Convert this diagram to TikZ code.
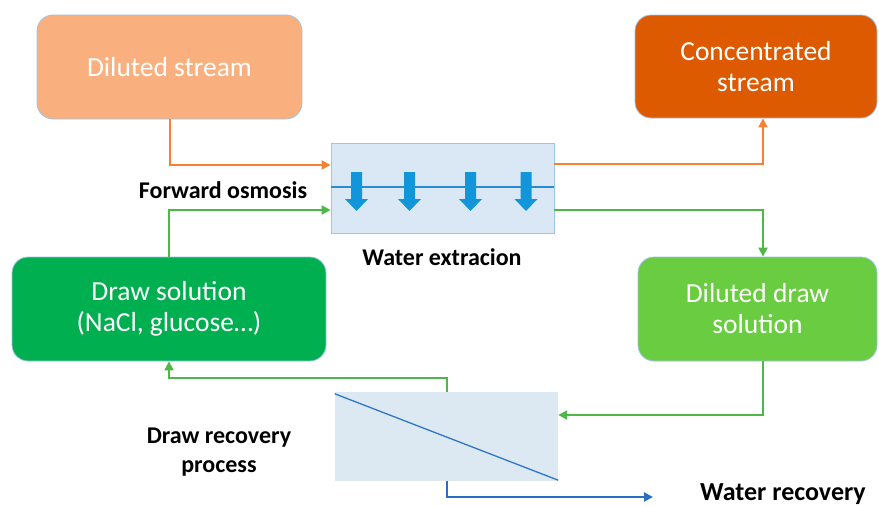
\documentclass[tikz,border=0pt]{standalone}
\usepackage{fontspec}
\setmainfont{Carlito}
\usetikzlibrary{arrows.meta}
\definecolor{boxedge}{RGB}{157,195,230}
\definecolor{dsfill}{RGB}{250,176,126}
\definecolor{csfill}{RGB}{222,90,0}
\definecolor{drfill}{RGB}{0,176,80}
\definecolor{ddfill}{RGB}{106,204,64}
\definecolor{fofill}{RGB}{218,232,245}
\definecolor{foedge}{RGB}{150,200,235}
\definecolor{recfill}{RGB}{220,233,243}
\definecolor{membrane}{RGB}{40,140,210}
\definecolor{arrowblue}{RGB}{18,150,218}
\definecolor{diag}{RGB}{47,117,200}
\definecolor{orln}{RGB}{245,130,50}
\definecolor{grln}{RGB}{77,184,72}
\definecolor{blln}{RGB}{40,110,200}
\begin{document}
\begin{tikzpicture}[x=1pt,y=-1pt,
  box/.style={draw=boxedge, line width=0.8pt, rounded corners=16pt, text=white,
    font=\fontsize{27.5}{31}\selectfont, align=center, inner sep=0pt},
  lbl/.style={font=\bfseries\fontsize{24}{29}\selectfont, text=black, inner sep=0pt, align=center},
  tip/.style={-{Triangle[length=9pt,width=9pt]}},
  oline/.style={draw=orln, line width=2pt, tip},
  gline/.style={draw=grln, line width=2pt, tip},
  bline/.style={draw=blln, line width=2pt, tip}]
\useasboundingbox (0,0) rectangle (879,506);

% boxes
\node[box, fill=dsfill, minimum width=265pt, minimum height=104pt] (ds) at (169.5,67) {Diluted stream};
\node[box, fill=csfill, minimum width=242pt, minimum height=103pt] (cs) at (756,66.5) {Concentrated\\stream};
\node[box, fill=drfill, minimum width=314pt, minimum height=104pt] (dr) at (169,309) {Draw solution\\(NaCl, glucose…)};
\node[box, fill=ddfill, minimum width=239pt, minimum height=104pt] (dd) at (757.5,309) {Diluted draw\\solution};

% forward osmosis unit
\node[draw=foedge, fill=fofill, line width=0.8pt, minimum width=223pt, minimum height=90pt, inner sep=0pt] (fo) at (442.5,188) {};
\draw[membrane, line width=1.3pt] ([yshift=1pt]fo.west) -- ([yshift=1pt]fo.east);
\foreach \cx in {356.5,409.5,470.5,526}{
  \fill[arrowblue] ({\cx-5.5},172) -- ({\cx+5.5},172) -- ({\cx+5.5},199) -- ({\cx+11.5},199)
    -- (\cx,211) -- ({\cx-11.5},199) -- ({\cx-5.5},199) -- cycle;
}

% draw recovery unit
\node[fill=recfill, minimum width=223pt, minimum height=89pt, inner sep=0pt] (rec) at (446.5,436.5) {};
\draw[diag, line width=1.3pt] ([yshift=-2pt]rec.north west) -- ([yshift=1pt]rec.south east);

% labels
\node[lbl, anchor=base] (lfo) at (223,198) {Forward osmosis};
\node[lbl, anchor=base] (lwe) at (442,265) {Water extracion};
\node[lbl] (ldr) at (219,452) {Draw recovery\\process};
\node[lbl, anchor=base, font=\bfseries\fontsize{26}{30}\selectfont] (lwr) at (783,500) {Water recovery};
\coordinate (wrend) at (653,497);

% connectors
\draw[oline] (ds.south) |- ([yshift=23pt]fo.west);
\draw[gline] (dr.north) |- ([yshift=-22pt]fo.west);
\draw[oline] ([yshift=24pt]fo.east) -| ([xshift=7pt]cs.south);
\draw[gline] ([yshift=-22pt]fo.east) -| ([xshift=5.5pt]dd.north);
\draw[gline] ([xshift=5.5pt]dd.south) |- ([yshift=21.5pt]rec.east);
\draw[gline] (rec.north) -- ++(0,-14) -| (dr.south);
\draw[bline] (rec.south) |- (wrend);
\end{tikzpicture}
\end{document}
